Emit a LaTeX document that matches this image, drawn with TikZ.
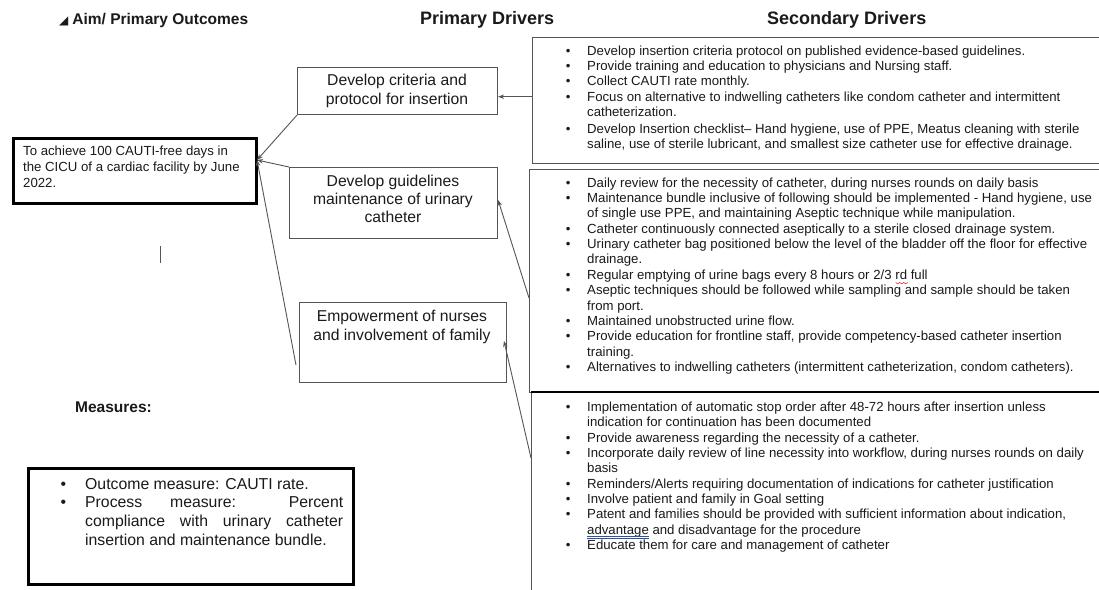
\documentclass[tikz,border=0pt]{standalone}
\usepackage{fontspec}
\setmainfont{Liberation Sans}
\newfontfamily\dejavu{DejaVu Sans}
\usetikzlibrary{arrows.meta}
\definecolor{ln}{HTML}{555555}
\definecolor{tx}{HTML}{1A1A1A}
\definecolor{spell}{HTML}{D02020}
\definecolor{gram}{HTML}{3050B0}
\newcommand\sbul{\makebox[21.3pt][l]{•}}
\newcommand\mbul{\makebox[24.7pt][l]{•}}
\newsavebox\ulbox
\newcommand\redwave[1]{\sbox\ulbox{#1}\rlap{\usebox\ulbox}\rlap{\tikz[baseline=0pt,x=1pt,y=1pt]\draw[spell,line width=0.55pt] (0,-3.2) -- ++(2,-1.3) -- ++(2,1.3) -- ++(2,-1.3) -- ++(2,1.3) -- ++(2,-1.3) -- ++(2,1.3);}\hspace{\wd\ulbox}}
\newcommand\bluedbl[1]{\sbox\ulbox{#1}\rlap{\usebox\ulbox}\rlap{\textcolor{gram}{\rule[-2.4pt]{\wd\ulbox}{0.45pt}}}\rlap{\textcolor{gram}{\rule[-3.8pt]{\wd\ulbox}{0.45pt}}}\hspace{\wd\ulbox}}
\begin{document}
\begin{tikzpicture}[x=1pt,y=-1pt,
  box/.style={draw=ln, line width=1.1pt, inner sep=0pt, anchor=north west},
  thickbox/.style={draw=black, line width=2.6pt, inner sep=0pt, anchor=north west},
  hdr/.style={font=\fontsize{15.5}{18}\selectfont\bfseries, anchor=base west, inner sep=0pt, text=tx},
  bighdr/.style={hdr, font=\fontsize{18}{21}\selectfont\bfseries},
  ptext/.style={font=\fontsize{15.7}{18.3}\selectfont, anchor=base, inner sep=0pt, text=tx},
  stext/.style={anchor=base west, inner sep=0pt, text=tx},
  conn/.style={draw=ln, line width=0.9pt, -{Stealth[length=6pt,width=4.5pt]}},
]
\useasboundingbox (0,0) rectangle (1099,589);
\fill[white] (0,0) rectangle (1099,589);
\clip (0,0) rectangle (1099,589);

% headers
\node[hdr] (h1) at (59,24) {{\dejavu\fontsize{12}{12}\selectfont ◢}\hspace{4pt}Aim/ Primary Outcomes};
\node[bighdr] (h2) at (420,24.5) {Primary Drivers};
\node[bighdr] (h3) at (767,24.5) {Secondary Drivers};

% aim box
\node[thickbox, minimum width=243pt, minimum height=65pt] (aim) at (12,137) {};
\node[stext, font=\fontsize{13.2}{16}\selectfont] (aimt) at (23,155) {\begin{tabular}[t]{@{}l@{}}
To achieve 100 CAUTI-free days in\\
the CICU of a cardiac facility by June\\
2022.
\end{tabular}};
\coordinate (aimtip) at (257,160);

% cursor mark
\draw[ln, line width=0.8pt] (160,246) -- (160,263);

% primary drivers
\node[box, minimum width=200pt, minimum height=47pt] (p1) at (297,67) {};
\node[ptext] (p1a) at (397,85.8) {Develop criteria and};
\node[ptext] (p1b) at (397,104.1) {protocol for insertion};

\node[box, minimum width=208pt, minimum height=71pt] (p2) at (289,167) {};
\node[ptext] (p2a) at (393,186.8) {Develop guidelines};
\node[ptext] (p2b) at (393,204.8) {maintenance of urinary};
\node[ptext] (p2c) at (393,222.4) {catheter};

\node[box, minimum width=207pt, minimum height=80pt] (p3) at (299,302) {};
\node[ptext] (p3a) at (402,321.4) {Empowerment of nurses};
\node[ptext] (p3b) at (402,340.1) {and involvement of family};

% secondary drivers
\node[box, minimum width=620pt, minimum height=126pt] (s1) at (531.5,37) {};
\node[box, minimum width=620pt, minimum height=223pt] (s2) at (529,169) {};
\node[box, minimum width=620pt, minimum height=240pt] (s3) at (531,392) {};
\draw[black, line width=2pt] (s3.north west) -- (s3.north east);

\node[stext, font=\fontsize{13.2}{15.4}\selectfont] (s1t) at (565.7,55.1) {\begin{tabular}[t]{@{}l@{}l@{}}
\sbul & Develop insertion criteria protocol on published evidence-based guidelines.\\
\sbul & Provide training and education to physicians and Nursing staff.\\
\sbul & Collect CAUTI rate monthly.\\
\sbul & Focus on alternative to indwelling catheters like condom catheter and intermittent\\
 & catheterization.\\[1.2pt]
\sbul & Develop Insertion checklist– Hand hygiene, use of PPE, Meatus cleaning with sterile\\
 & saline, use of sterile lubricant, and smallest size catheter use for effective drainage.
\end{tabular}};

\node[stext, font=\fontsize{13.2}{15.35}\selectfont] (s2t) at (565.7,187.2) {\begin{tabular}[t]{@{}l@{}l@{}}
\sbul & Daily review for the necessity of catheter, during nurses rounds on daily basis\\
\sbul & Maintenance bundle inclusive of following should be implemented - Hand hygiene, use\\
 & of single use PPE, and maintaining Aseptic technique while manipulation.\\
\sbul & Catheter continuously connected aseptically to a sterile closed drainage system.\\
\sbul & Urinary catheter bag positioned below the level of the bladder off the floor for effective\\
 & drainage.\\
\sbul & Regular emptying of urine bags every 8 hours or 2/3 \redwave{rd} full\\
\sbul & Aseptic techniques should be followed while sampling and sample should be taken\\
 & from port.\\
\sbul & Maintained unobstructed urine flow.\\
\sbul & Provide education for frontline staff, provide competency-based catheter insertion\\
 & training.\\
\sbul & Alternatives to indwelling catheters (intermittent catheterization, condom catheters).
\end{tabular}};

\node[stext, font=\fontsize{13.2}{15.35}\selectfont] (s3t) at (565.7,411.4) {\begin{tabular}[t]{@{}l@{}l@{}}
\sbul & Implementation of automatic stop order after 48-72 hours after insertion unless\\
 & indication for continuation has been documented\\
\sbul & Provide awareness regarding the necessity of a catheter.\\
\sbul & Incorporate daily review of line necessity into workflow, during nurses rounds on daily\\
 & basis\\
\sbul & Reminders/Alerts requiring documentation of indications for catheter justification\\
\sbul & Involve patient and family in Goal setting\\
\sbul & Patent and families should be provided with sufficient information about indication,\\
 & \bluedbl{advantage} and disadvantage for the procedure\\
\sbul & Educate them for care and management of catheter
\end{tabular}};

% measures
\node[hdr] (mh) at (75,412) {Measures:};
\node[thickbox, minimum width=325pt, minimum height=116pt] (meas) at (27,467) {};
\node[stext, font=\fontsize{15.8}{18.7}\selectfont] (meast) at (60.3,489) {\begin{tabular}[t]{@{}l@{}l@{}}
\mbul & Outcome measure: CAUTI rate.\\
\mbul & \makebox[258pt][s]{Process measure: Percent}\\
 & \makebox[258pt][s]{compliance with urinary catheter}\\
 & insertion and maintenance bundle.
\end{tabular}};

% connectors
\coordinate (s1out) at (s1.west |- 0,96.7);
\coordinate (p1in) at (p1.east |- 0,96.7);
\draw[conn] (s1out) -- (p1in);
\draw[conn] (p1.south west) -- (aimtip);
\draw[conn] (p2.north west) -- (aimtip);
\coordinate (p3out) at (296,365);
\draw[conn] (p3out) -- (aimtip);
\coordinate (s2out) at (s2.west |- 0,298);
\coordinate (p2in) at (p2.east |- 0,200);
\draw[conn] (s2out) -- (p2in);
\coordinate (s3out) at (s3.west |- 0,458);
\coordinate (p3in) at (504,341);
\draw[conn] (s3out) -- (p3in);
\end{tikzpicture}
\end{document}
